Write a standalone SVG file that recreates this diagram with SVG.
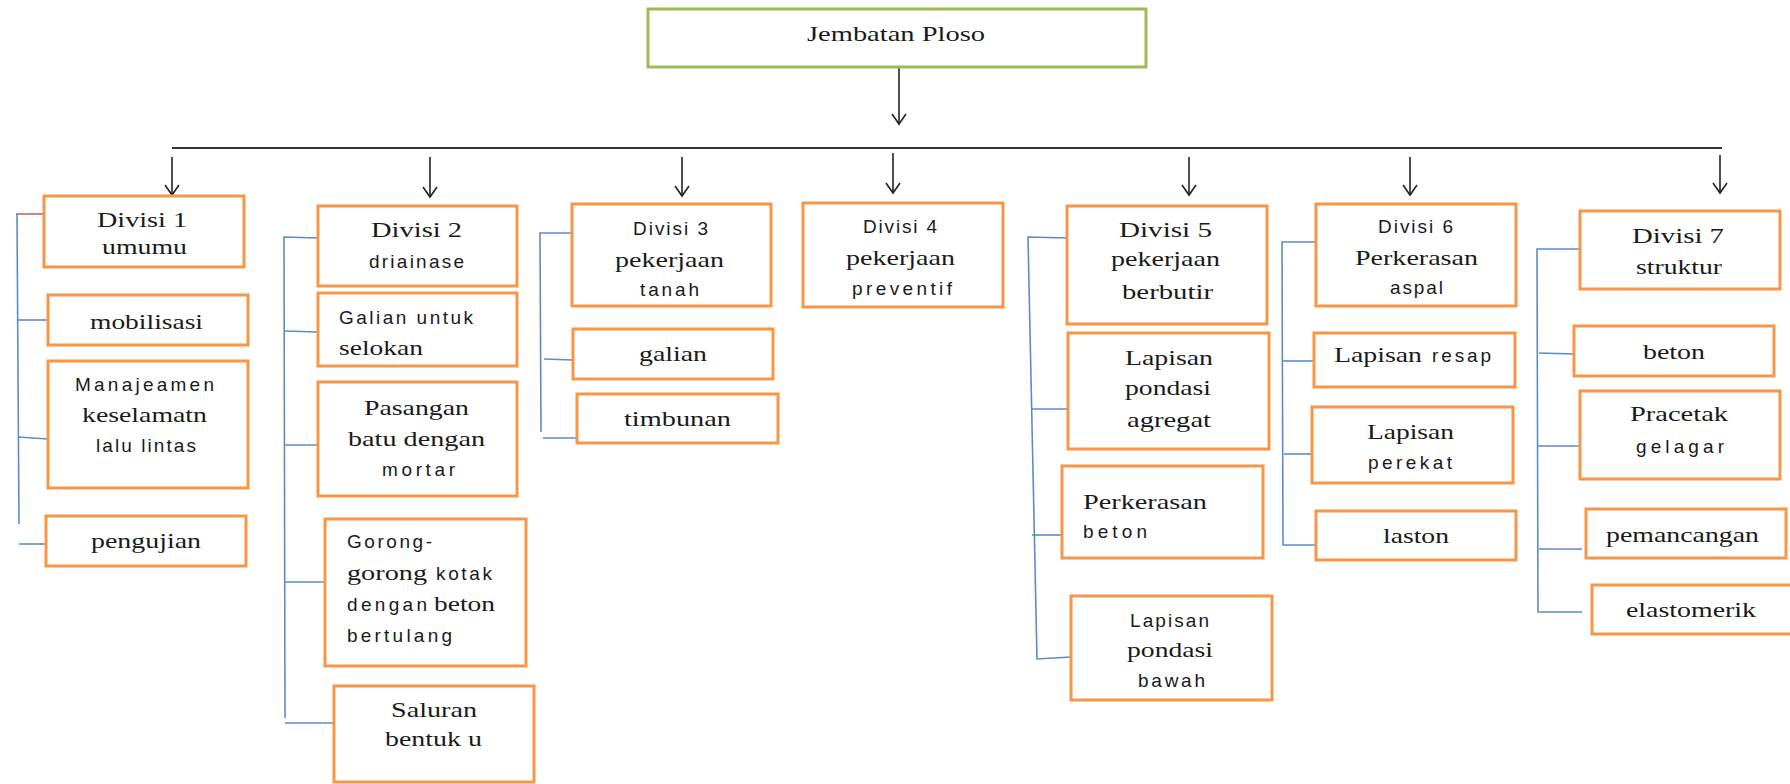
<svg xmlns="http://www.w3.org/2000/svg" width="1790" height="784" viewBox="0 0 1790 784">
<style>
.s{font-family:"Liberation Serif","Times New Roman",serif;font-size:22px;fill:#1a1a1a}
.a{font-family:"Liberation Sans",Arial,sans-serif;font-size:19px;fill:#1a1a1a}
.box{fill:#fff;stroke:#f79646;stroke-width:3}
.root{fill:#fff;stroke:#9bbb59;stroke-width:3}
.con{stroke:#5b8cc8;stroke-width:1.6;fill:none}
.red{stroke:#c0504d;stroke-width:1.4;fill:none}
.bar{stroke:#333;stroke-width:2;fill:none}
.arr{stroke:#222;stroke-width:1.6;fill:none;marker-end:url(#ah)}
</style>
<defs>
<marker id="ah" markerUnits="userSpaceOnUse" viewBox="-12 -9 14 18" refX="0" refY="0" markerWidth="14" markerHeight="18" orient="auto">
<path d="M-10,-7 L0,0 L-10,7" fill="none" stroke="#222" stroke-width="1.6"/>
</marker>
</defs>
<rect width="1790" height="784" fill="#fff"/>

<g id="connectors">
<line class="arr" x1="899" y1="67" x2="899" y2="124"/>
<line class="bar" x1="172" y1="148" x2="1722" y2="148"/>
<line class="arr" x1="172" y1="157" x2="172" y2="195"/>
<line class="arr" x1="430" y1="157" x2="430" y2="197"/>
<line class="arr" x1="682" y1="157" x2="682" y2="196"/>
<line class="arr" x1="893" y1="153" x2="893" y2="193"/>
<line class="arr" x1="1189" y1="157" x2="1189" y2="195"/>
<line class="arr" x1="1410" y1="157" x2="1410" y2="195"/>
<line class="arr" x1="1720" y1="155" x2="1720" y2="193"/>
<!-- divisi 1 -->
<line class="red" x1="16" y1="214" x2="44" y2="214"/>
<polyline class="con" points="17,214 19,524"/>
<line class="con" x1="18" y1="320" x2="48" y2="320"/>
<line class="con" x1="18" y1="437" x2="48" y2="439"/>
<line class="con" x1="19" y1="544" x2="46" y2="544"/>
<!-- divisi 2 -->
<polyline class="con" points="318,238 284,237 285,718"/>
<line class="con" x1="284" y1="331" x2="318" y2="332"/>
<line class="con" x1="284" y1="445" x2="318" y2="445"/>
<line class="con" x1="285" y1="582" x2="325" y2="582"/>
<line class="con" x1="285" y1="723" x2="334" y2="723"/>
<!-- divisi 3 -->
<polyline class="con" points="572,233 540,233 541,432"/>
<line class="con" x1="544" y1="359" x2="573" y2="360"/>
<line class="con" x1="543" y1="438" x2="577" y2="438"/>
<!-- divisi 5 -->
<polyline class="con" points="1067,238 1028,237 1037,659 1071,657"/>
<line class="con" x1="1031" y1="409" x2="1068" y2="409"/>
<line class="con" x1="1032" y1="535" x2="1062" y2="535"/>
<!-- divisi 6 -->
<polyline class="con" points="1316,242 1282,242 1283,545 1316,545"/>
<line class="con" x1="1283" y1="361" x2="1314" y2="361"/>
<line class="con" x1="1284" y1="454" x2="1312" y2="454"/>
<!-- divisi 7 -->
<polyline class="con" points="1580,249 1537,249 1538,613"/>
<line class="con" x1="1539" y1="353" x2="1574" y2="354"/>
<line class="con" x1="1538" y1="446" x2="1580" y2="446"/>
<line class="con" x1="1539" y1="549" x2="1582" y2="549"/>
<line class="con" x1="1539" y1="612" x2="1582" y2="612"/>
</g>

<g id="root">
<rect class="root" x="648" y="9" width="498" height="58"/>
<text class="s" x="807" y="41" textLength="178" lengthAdjust="spacingAndGlyphs">Jembatan Ploso</text>
</g>

<g id="divisi1">
<rect class="box" x="44" y="196" width="200" height="71"/>
<text class="s" x="97" y="227" textLength="90" lengthAdjust="spacingAndGlyphs">Divisi 1</text>
<text class="s" x="102" y="254" textLength="85" lengthAdjust="spacingAndGlyphs">umumu</text>
</g>
<g id="mobilisasi">
<rect class="box" x="48" y="295" width="200" height="50"/>
<text class="s" x="90" y="329" textLength="113" lengthAdjust="spacingAndGlyphs">mobilisasi</text>
</g>
<g id="manajemen">
<rect class="box" x="48" y="361" width="200" height="127"/>
<text class="a" x="75" y="391" textLength="139" lengthAdjust="spacing">Manajeamen</text>
<text class="s" x="82" y="422" textLength="125" lengthAdjust="spacingAndGlyphs">keselamatn</text>
<text class="a" x="96" y="452" textLength="100" lengthAdjust="spacing">lalu lintas</text>
</g>
<g id="pengujian">
<rect class="box" x="46" y="516" width="200" height="50"/>
<text class="s" x="91" y="548" textLength="110" lengthAdjust="spacingAndGlyphs">pengujian</text>
</g>

<g id="divisi2">
<rect class="box" x="318" y="206" width="199" height="80"/>
<text class="s" x="371" y="237" textLength="91" lengthAdjust="spacingAndGlyphs">Divisi 2</text>
<text class="a" x="369" y="268" textLength="95" lengthAdjust="spacing">driainase</text>
</g>
<g id="galian-selokan">
<rect class="box" x="318" y="293" width="199" height="73"/>
<text class="a" x="339" y="324" textLength="134" lengthAdjust="spacing">Galian untuk</text>
<text class="s" x="339" y="355" textLength="84" lengthAdjust="spacingAndGlyphs">selokan</text>
</g>
<g id="pasangan">
<rect class="box" x="318" y="382" width="199" height="114"/>
<text class="s" x="364" y="415" textLength="105" lengthAdjust="spacingAndGlyphs">Pasangan</text>
<text class="s" x="348" y="446" textLength="137" lengthAdjust="spacingAndGlyphs">batu dengan</text>
<text class="a" x="382" y="476" textLength="73" lengthAdjust="spacing">mortar</text>
</g>
<g id="gorong">
<rect class="box" x="325" y="519" width="201" height="147"/>
<text class="a" x="347" y="548" textLength="85" lengthAdjust="spacing">Gorong-</text>
<text class="s" x="347" y="580" textLength="80" lengthAdjust="spacingAndGlyphs">gorong</text>
<text class="a" x="436" y="580" textLength="56" lengthAdjust="spacing">kotak</text>
<text class="a" x="347" y="611" textLength="80" lengthAdjust="spacing">dengan</text>
<text class="s" x="434" y="611" textLength="61" lengthAdjust="spacingAndGlyphs">beton</text>
<text class="a" x="347" y="642" textLength="105" lengthAdjust="spacing">bertulang</text>
</g>
<g id="saluran">
<rect class="box" x="334" y="686" width="200" height="96"/>
<text class="s" x="391" y="717" textLength="86" lengthAdjust="spacingAndGlyphs">Saluran</text>
<text class="s" x="385" y="746" textLength="97" lengthAdjust="spacingAndGlyphs">bentuk u</text>
</g>

<g id="divisi3">
<rect class="box" x="572" y="204" width="199" height="102"/>
<text class="a" x="633" y="235" textLength="75" lengthAdjust="spacing">Divisi 3</text>
<text class="s" x="615" y="267" textLength="109" lengthAdjust="spacingAndGlyphs">pekerjaan</text>
<text class="a" x="640" y="296" textLength="59" lengthAdjust="spacing">tanah</text>
</g>
<g id="galian">
<rect class="box" x="573" y="329" width="200" height="50"/>
<text class="s" x="639" y="361" textLength="68" lengthAdjust="spacingAndGlyphs">galian</text>
</g>
<g id="timbunan">
<rect class="box" x="577" y="394" width="201" height="49"/>
<text class="s" x="624" y="426" textLength="107" lengthAdjust="spacingAndGlyphs">timbunan</text>
</g>

<g id="divisi4">
<rect class="box" x="803" y="203" width="200" height="104"/>
<text class="a" x="863" y="233" textLength="74" lengthAdjust="spacing">Divisi 4</text>
<text class="s" x="846" y="265" textLength="109" lengthAdjust="spacingAndGlyphs">pekerjaan</text>
<text class="a" x="852" y="295" textLength="100" lengthAdjust="spacing">preventif</text>
</g>

<g id="divisi5">
<rect class="box" x="1067" y="206" width="200" height="118"/>
<text class="s" x="1119" y="237" textLength="93" lengthAdjust="spacingAndGlyphs">Divisi 5</text>
<text class="s" x="1111" y="266" textLength="109" lengthAdjust="spacingAndGlyphs">pekerjaan</text>
<text class="s" x="1122" y="299" textLength="91" lengthAdjust="spacingAndGlyphs">berbutir</text>
</g>
<g id="lapisan-agregat">
<rect class="box" x="1068" y="333" width="201" height="116"/>
<text class="s" x="1125" y="365" textLength="88" lengthAdjust="spacingAndGlyphs">Lapisan</text>
<text class="s" x="1125" y="395" textLength="86" lengthAdjust="spacingAndGlyphs">pondasi</text>
<text class="s" x="1127" y="427" textLength="84" lengthAdjust="spacingAndGlyphs">agregat</text>
</g>
<g id="perkerasan-beton">
<rect class="box" x="1062" y="466" width="201" height="92"/>
<text class="s" x="1083" y="509" textLength="124" lengthAdjust="spacingAndGlyphs">Perkerasan</text>
<text class="a" x="1083" y="538" textLength="64" lengthAdjust="spacing">beton</text>
</g>
<g id="lapisan-bawah">
<rect class="box" x="1071" y="596" width="201" height="104"/>
<text class="a" x="1130" y="627" textLength="79" lengthAdjust="spacing">Lapisan</text>
<text class="s" x="1127" y="657" textLength="86" lengthAdjust="spacingAndGlyphs">pondasi</text>
<text class="a" x="1138" y="687" textLength="67" lengthAdjust="spacing">bawah</text>
</g>

<g id="divisi6">
<rect class="box" x="1316" y="204" width="200" height="102"/>
<text class="a" x="1378" y="233" textLength="75" lengthAdjust="spacing">Divisi 6</text>
<text class="s" x="1355" y="265" textLength="123" lengthAdjust="spacingAndGlyphs">Perkerasan</text>
<text class="a" x="1390" y="294" textLength="53" lengthAdjust="spacing">aspal</text>
</g>
<g id="lapisan-resap">
<rect class="box" x="1314" y="333" width="201" height="54"/>
<text class="s" x="1334" y="362" textLength="88" lengthAdjust="spacingAndGlyphs">Lapisan</text>
<text class="a" x="1432" y="362" textLength="59" lengthAdjust="spacing">resap</text>
</g>
<g id="lapisan-perekat">
<rect class="box" x="1312" y="407" width="201" height="76"/>
<text class="s" x="1367" y="439" textLength="87" lengthAdjust="spacingAndGlyphs">Lapisan</text>
<text class="a" x="1368" y="469" textLength="84" lengthAdjust="spacing">perekat</text>
</g>
<g id="laston">
<rect class="box" x="1316" y="511" width="200" height="49"/>
<text class="s" x="1383" y="543" textLength="66" lengthAdjust="spacingAndGlyphs">laston</text>
</g>

<g id="divisi7">
<rect class="box" x="1580" y="211" width="200" height="78"/>
<text class="s" x="1632" y="243" textLength="92" lengthAdjust="spacingAndGlyphs">Divisi 7</text>
<text class="s" x="1636" y="274" textLength="86" lengthAdjust="spacingAndGlyphs">struktur</text>
</g>
<g id="beton">
<rect class="box" x="1574" y="326" width="200" height="50"/>
<text class="s" x="1643" y="359" textLength="62" lengthAdjust="spacingAndGlyphs">beton</text>
</g>
<g id="pracetak">
<rect class="box" x="1580" y="391" width="200" height="88"/>
<text class="s" x="1630" y="421" textLength="98" lengthAdjust="spacingAndGlyphs">Pracetak</text>
<text class="a" x="1636" y="453" textLength="88" lengthAdjust="spacing">gelagar</text>
</g>
<g id="pemancangan">
<rect class="box" x="1586" y="509" width="200" height="49"/>
<text class="s" x="1606" y="542" textLength="153" lengthAdjust="spacingAndGlyphs">pemancangan</text>
</g>
<g id="elastomerik">
<rect class="box" x="1592" y="585" width="200" height="49"/>
<text class="s" x="1626" y="617" textLength="130" lengthAdjust="spacingAndGlyphs">elastomerik</text>
</g>
</svg>
